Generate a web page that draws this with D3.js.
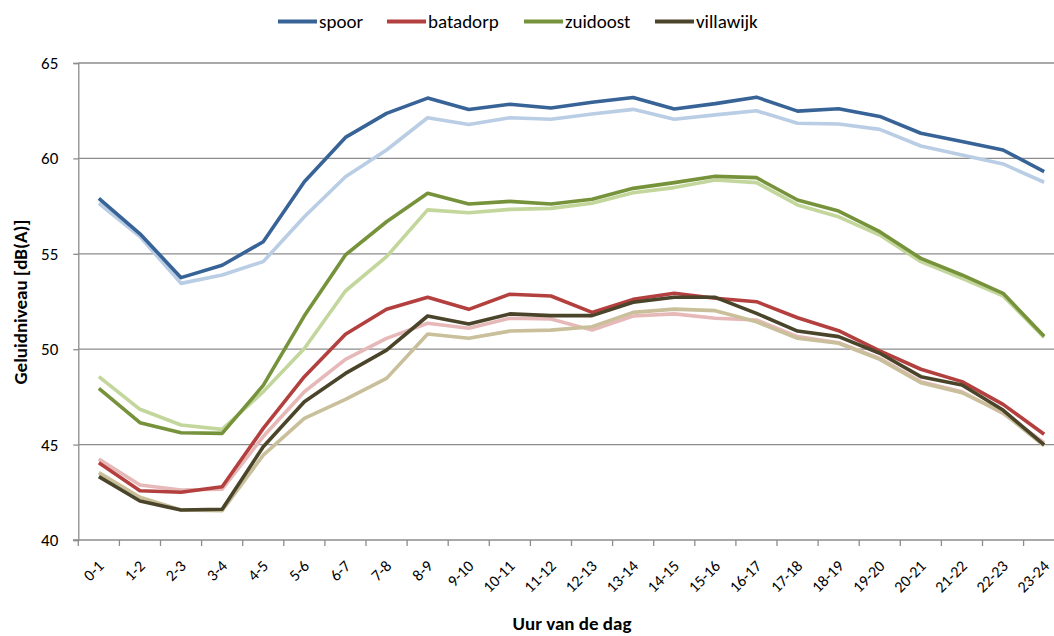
<!DOCTYPE html>
<html><head><meta charset="utf-8">
<script src="https://cdn.jsdelivr.net/npm/d3@7"></script>
<style>
html,body{margin:0;padding:0;background:#fff;overflow:hidden}
svg{display:block;font-family:Carlito,Lato,"Liberation Sans",sans-serif}
</style></head>
<body><svg id="c" width="1054" height="636"></svg>
<script>
const categories = ["0-1","1-2","2-3","3-4","4-5","5-6","6-7","7-8","8-9","9-10","10-11","11-12","12-13","13-14","14-15","15-16","16-17","17-18","18-19","19-20","20-21","21-22","22-23","23-24"];
const yTicks = [40,45,50,55,60,65];

const spoor      = [57.9,56.05,53.75,54.4,55.63,58.78,61.1,62.36,63.16,62.56,62.84,62.64,62.94,63.19,62.59,62.87,63.21,62.48,62.6,62.2,61.32,60.89,60.44,59.31];
const spoorL     = [57.65,55.9,53.45,53.89,54.59,56.94,59.04,60.44,62.13,61.78,62.13,62.05,62.33,62.57,62.05,62.28,62.5,61.84,61.8,61.52,60.65,60.18,59.71,58.75];
const batadorp   = [44.05,42.58,42.5,42.79,45.85,48.56,50.78,52.09,52.72,52.09,52.88,52.79,51.93,52.61,52.93,52.67,52.49,51.65,50.97,49.91,48.95,48.3,47.11,45.54];
const batadorpL  = [44.25,42.88,42.62,42.66,45.42,47.77,49.47,50.57,51.36,51.1,51.62,51.58,51.0,51.74,51.85,51.62,51.53,50.66,50.34,49.52,48.3,47.77,46.64,45.1];
const zuidoost   = [47.95,46.15,45.62,45.59,48.1,51.75,54.94,56.68,58.17,57.61,57.75,57.61,57.86,58.43,58.73,59.06,58.99,57.82,57.24,56.16,54.76,53.89,52.93,50.68];
const zuidoostL  = [48.56,46.85,46.03,45.8,47.77,50.04,53.05,54.85,57.3,57.15,57.33,57.38,57.65,58.2,58.47,58.87,58.73,57.56,56.94,55.98,54.59,53.71,52.79,50.62];
const villawijk  = [43.32,42.04,41.57,41.61,44.89,47.25,48.73,49.95,51.74,51.32,51.85,51.76,51.76,52.46,52.72,52.72,51.88,50.95,50.66,49.79,48.56,48.12,46.81,44.98];
const villawijkL = [43.53,42.24,41.57,41.54,44.45,46.37,47.37,48.47,50.8,50.57,50.95,51.0,51.18,51.93,52.1,52.02,51.44,50.57,50.31,49.47,48.24,47.72,46.67,44.94];

const seriesNames = ["spoor","batadorp","zuidoost","villawijk"];
const darkColors  = ["#386397","#B3403E","#76933C","#4A452A"];
const lightColors = ["#B9CDE5","#E6B9B8","#C3D69B","#C9BF9A"];
const darkData  = [spoor,batadorp,zuidoost,villawijk];
const lightData = [spoorL,batadorpL,zuidoostL,villawijkL];

const svg = d3.select("#c");
const x = d3.scaleBand().domain(categories).range([78.3,1064.7]);
const y = d3.scaleLinear().domain([40,65]).range([540,63]);
const cx = c => x(c) + x.bandwidth()/2;

// gridlines
svg.append("g").selectAll("line").data(yTicks.filter(d=>d>40)).join("line")
  .attr("x1",78.3).attr("x2",1054).attr("y1",d=>y(d)).attr("y2",d=>y(d))
  .attr("stroke","#8c8c8c").attr("stroke-width",1.3);

// y axis
const ya = svg.append("g").attr("transform","translate(78.3,0)")
  .call(d3.axisLeft(y).tickValues(yTicks).tickSize(5).tickPadding(15));
ya.select(".domain").attr("stroke","#8c8c8c").attr("stroke-width",1.3);
ya.selectAll(".tick line").attr("stroke","#8c8c8c").attr("stroke-width",1.3);
ya.selectAll(".tick text").attr("font-size",17).attr("fill","#000").attr("font-family","Carlito,Lato,sans-serif");

// x axis line and ticks
svg.append("line").attr("x1",73).attr("x2",1054).attr("y1",540).attr("y2",540)
  .attr("stroke","#8c8c8c").attr("stroke-width",1.3);
const bounds = categories.map(c=>x(c)).concat([x.range()[1]]);
svg.append("g").selectAll("line").data(bounds).join("line")
  .attr("x1",d=>d).attr("x2",d=>d).attr("y1",540).attr("y2",546)
  .attr("stroke","#8c8c8c").attr("stroke-width",1.3);
svg.append("g").selectAll("text").data(categories).join("text")
  .attr("transform",c=>`translate(${cx(c)+6},${567}) rotate(-45)`)
  .attr("text-anchor","end").attr("font-size",16).attr("fill","#000")
  .text(c=>c);

// lines
const line = d3.line().x((d,i)=>cx(categories[i])).y(d=>y(d));
const g = svg.append("g");
lightData.forEach((arr,i)=>{
  g.append("path").attr("d",line(arr)).attr("fill","none")
   .attr("stroke",lightColors[i]).attr("stroke-width",3.6).attr("stroke-linejoin","round");
});
darkData.forEach((arr,i)=>{
  g.append("path").attr("d",line(arr)).attr("fill","none")
   .attr("stroke",darkColors[i]).attr("stroke-width",3.6).attr("stroke-linejoin","round");
});

// axis titles
svg.append("text").attr("x",572).attr("y",630).attr("text-anchor","middle")
  .attr("font-size",19).attr("font-weight","bold").text("Uur van de dag");
svg.append("text").attr("transform","translate(27,302) rotate(-90)").attr("text-anchor","middle")
  .attr("font-size",19).attr("font-weight","bold").text("Geluidniveau [dB(A)]");

// legend
const legX = [278,387,524,655];
const lg = svg.append("g");
seriesNames.forEach((n,i)=>{
  lg.append("line").attr("x1",legX[i]).attr("x2",legX[i]+39).attr("y1",21.5).attr("y2",21.5)
    .attr("stroke",darkColors[i]).attr("stroke-width",4);
  lg.append("text").attr("x",legX[i]+41).attr("y",27.5).attr("font-size",19).attr("fill","#000").text(n);
});
</script></body></html>
